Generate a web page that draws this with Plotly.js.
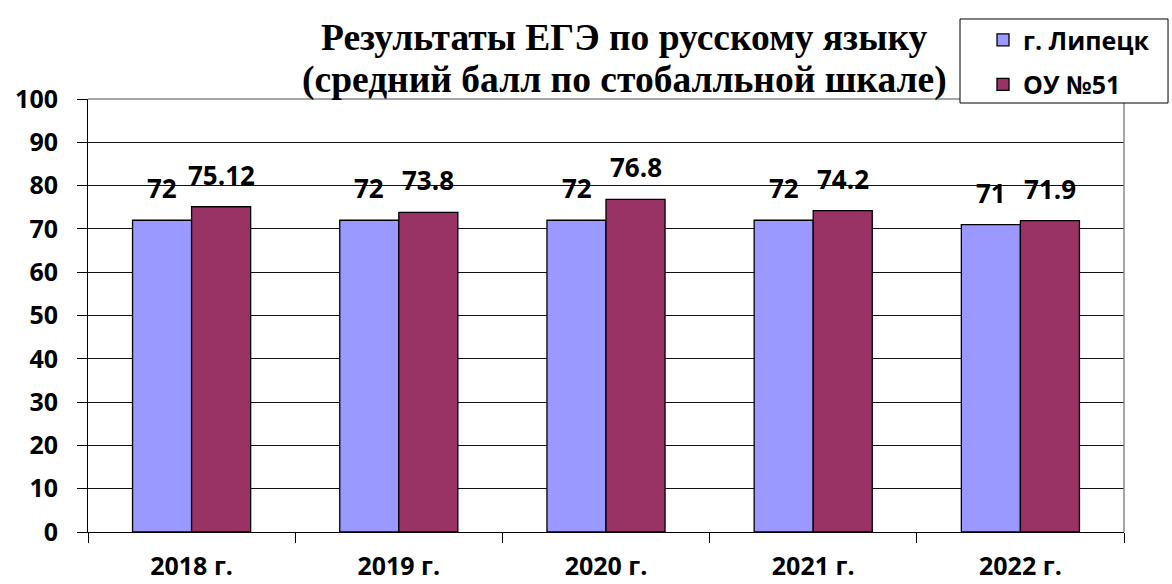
<!DOCTYPE html>
<html>
<head>
<meta charset="utf-8">
<script src="https://cdn.plot.ly/plotly-3.0.1.min.js"></script>
<style>html,body{margin:0;padding:0;background:#fff;}#chart{width:1172px;height:584px;}</style>
</head>
<body>
<div id="chart"></div>
<script>
const years = ["2018 г.", "2019 г.", "2020 г.", "2021 г.", "2022 г."];
const lipetsk = [72, 72, 72, 72, 71];
const school = [75.12, 73.8, 76.8, 74.2, 71.9];
const lipetskLabels = ["72", "72", "72", "72", "71"];
const schoolLabels = ["75.12", "73.8", "76.8", "74.2", "71.9"];
const seriesNames = ["г. Липецк", "ОУ №51"];
const yTicks = [0, 10, 20, 30, 40, 50, 60, 70, 80, 90, 100];
const titleLines = ["Результаты ЕГЭ по русскому языку", "(средний балл по стобалльной шкале)"];

const sansBold = "'Open Sans', 'DejaVu Sans', sans-serif";
const serifBold = "'Liberation Serif', 'Times New Roman', serif";
const lblFont = {family: sansBold, size: 26, color: "#000", weight: 700};

const traces = [
  {type: "bar", name: seriesNames[0], x: years, y: lipetsk, legendgroup: "a",
   marker: {color: "#9999FF", line: {color: "#000", width: 1.3}}},
  {type: "bar", name: seriesNames[1], x: years, y: school, legendgroup: "b",
   marker: {color: "#993366", line: {color: "#000", width: 1.3}}}
];

const annotations = [];
years.forEach((yr, i) => {
  annotations.push({x: yr, y: lipetsk[i], xref: "x", yref: "y", text: lipetskLabels[i],
    showarrow: false, xshift: -29.5, yanchor: "bottom", yshift: 12, font: lblFont});
  annotations.push({x: yr, y: school[i], xref: "x", yref: "y", text: schoolLabels[i],
    showarrow: false, xshift: 29.5, yanchor: "bottom", yshift: 12, font: lblFont});
});
// title lines
annotations.push({xref: "paper", yref: "paper", x: 0.5174, y: 1.1409, xanchor: "center", yanchor: "middle",
  text: titleLines[0], showarrow: false, font: {family: serifBold, size: 37.5, color: "#000", weight: 700}});
annotations.push({xref: "paper", yref: "paper", x: 0.5174, y: 1.0439, xanchor: "center", yanchor: "middle",
  text: titleLines[1], showarrow: false, font: {family: serifBold, size: 37.5, color: "#000", weight: 700}});

const layout = {
  width: 1172, height: 584,
  margin: {l: 88, r: 48, t: 99, b: 52, pad: 0},
  paper_bgcolor: "#fff", plot_bgcolor: "#fff",
  barmode: "group", bargap: 0.43, bargroupgap: 0,
  xaxis: {type: "category", showgrid: false, showline: true, linecolor: "#000", linewidth: 1,
    ticks: "outside", ticklen: 10, tickcolor: "#000", tickson: "boundaries",
    ticklabelstandoff: 12,
    tickfont: {family: sansBold, size: 25, color: "#000", weight: 700}, fixedrange: true},
  yaxis: {range: [0, 100], tickvals: yTicks, ticktext: yTicks.map(String),
    showgrid: true, gridcolor: "#111", gridwidth: 1, zeroline: false,
    showline: true, linecolor: "#000", linewidth: 1,
    ticks: "outside", ticklen: 10, tickcolor: "#000", ticklabelstandoff: 14,
    tickfont: {family: sansBold, size: 25, color: "#000", weight: 700}, fixedrange: true},
  showlegend: true,
  legend: {x: 0.8639, y: 1.1893, xanchor: "left", yanchor: "top",
    bgcolor: "rgba(0,0,0,0)", borderwidth: 0,
    font: {family: sansBold, size: 25, color: "#000", weight: 700},
    traceorder: "grouped", tracegroupgap: 9, itemwidth: 30},
  shapes: [
    {type: "line", xref: "paper", yref: "paper", x0: 0, x1: 1, y0: 1, y1: 1, line: {color: "#888", width: 1.5}},
    {type: "line", xref: "paper", yref: "paper", x0: 1, x1: 1, y0: 0, y1: 1, line: {color: "#888", width: 1.5}},
    {type: "rect", xref: "paper", yref: "paper", x0: 0.8417, x1: 1.0425, y0: 0.99076, y1: 1.18476,
     fillcolor: "#fff", line: {color: "#000", width: 1}}
  ],
  annotations: annotations
};

Plotly.newPlot("chart", traces, layout, {displayModeBar: false, staticPlot: true});
</script>
</body>
</html>
